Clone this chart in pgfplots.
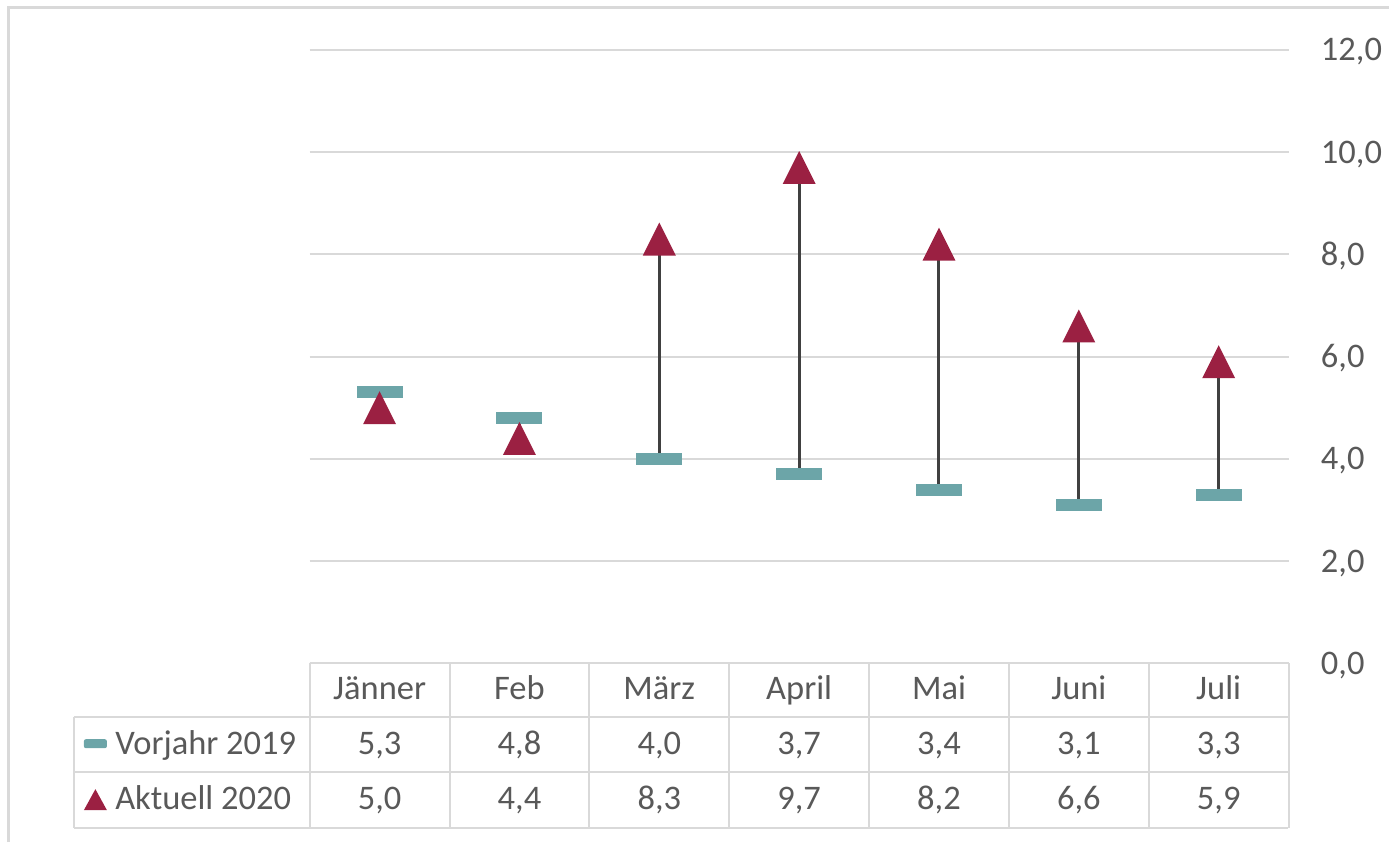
\documentclass[border=0pt]{standalone}
\usepackage{fontspec}
\setmainfont{Carlito}
\usepackage{pgfplots}
\usepackage{pgfplotstable}
\pgfplotsset{compat=1.18}
\definecolor{teal19}{RGB}{108,165,168}
\definecolor{maroon20}{RGB}{155,32,66}
\definecolor{txt}{RGB}{89,89,89}
\definecolor{gridc}{RGB}{217,217,217}
\definecolor{hl}{RGB}{64,64,64}
\pgfkeys{/pgf/number format/.cd, fixed, fixed zerofill, precision=1, use comma, assume math mode=true}

\pgfdeclareplotmark{dashbar}{%
 \pgfsetcornersarced{\pgfpoint{1.5pt}{1.5pt}}%
 \pgfpathrectangle{\pgfpoint{-11.5pt}{-3pt}}{\pgfpoint{23pt}{6pt}}%
 \pgfusepathqfill}
\pgfdeclareplotmark{tri}{%
 \pgfpathmoveto{\pgfpoint{0pt}{8.25pt}}%
 \pgfpathlineto{\pgfpoint{-8.25pt}{-8.25pt}}%
 \pgfpathlineto{\pgfpoint{8.25pt}{-8.25pt}}%
 \pgfpathclose\pgfusepathqfill}

\pgfplotstableread{
x month v2019 v2020
0 Jänner 5.3 5.0
1 Feb 4.8 4.4
2 März 4.0 8.3
3 April 3.7 9.7
4 Mai 3.4 8.2
5 Juni 3.1 6.6
6 Juli 3.3 5.9
}\data

\begin{document}
\begin{tikzpicture}[font=\fontsize{17.25}{20}\selectfont, text=txt]
\begin{scope}[x=0.5pt,y=-0.5pt]
\path (0,0) rectangle (1390,843);
\draw[gridc, line width=1.5pt] (8.5,843) -- (8.5,7.5) -- (1390,7.5);
\end{scope}

\begin{axis}[at={(155pt,-332pt)}, anchor=south west, scale only axis,
  width=490pt, height=307pt,
  xmin=-0.5, xmax=6.5, ymin=0, ymax=12,
  axis line style={draw=none},
  xtick=\empty, ytick={0,2,...,12},
  yticklabel pos=right, major tick length=0pt,
  ymajorgrids, grid style={gridc, line width=1pt},
  yticklabel style={anchor=base west, inner sep=0pt, xshift=16pt, yshift=-5.5pt,
     font=\fontsize{17.25}{20}\selectfont, text=txt},
  clip=false]
\addplot[hl, line width=1.5pt, unbounded coords=jump, forget plot] coordinates {
 (0,5.3) (0,5.0) (0,nan)
 (1,4.8) (1,4.4) (1,nan)
 (2,4.0) (2,8.3) (2,nan)
 (3,3.7) (3,9.7) (3,nan)
 (4,3.4) (4,8.2) (4,nan)
 (5,3.1) (5,6.6) (5,nan)
 (6,3.3) (6,5.9)};
\addplot[only marks, mark=dashbar, teal19] table[x=x, y=v2019]{\data};
\addplot[only marks, mark=tri, maroon20] table[x=x, y=v2020]{\data};
\end{axis}

\begin{scope}[x=0.5pt,y=-0.5pt]
\draw[gridc, line width=1pt] (310,664) -- (1289,664);
\foreach \yy in {718,773,829} \draw[gridc, line width=1pt] (74,\yy) -- (1289,\yy);
\draw[gridc, line width=1pt] (74,718) -- (74,829);
\foreach \xx in {310,450,...,1290} \draw[gridc, line width=1pt] (\xx,664) -- (\xx,829);
\foreach \i in {0,...,6} {
  \pgfplotstablegetelem{\i}{month}\of\data \let\mo\pgfplotsretval
  \node[anchor=base, inner sep=0pt] at ({380+140*\i},700) {\mo};
  \pgfplotstablegetelem{\i}{v2019}\of\data \let\va\pgfplotsretval
  \node[anchor=base, inner sep=0pt] at ({380+140*\i},755) {\pgfmathprintnumber{\va}};
  \pgfplotstablegetelem{\i}{v2020}\of\data \let\vb\pgfplotsretval
  \node[anchor=base, inner sep=0pt] at ({380+140*\i},810) {\pgfmathprintnumber{\vb}};
}
\fill[teal19, rounded corners=1pt] (84,740) rectangle (107,749);
\fill[maroon20] (95.5,790) -- (84,811) -- (107,811) -- cycle;
\node[anchor=base west, inner sep=0pt] at (115,755) {Vorjahr 2019};
\node[anchor=base west, inner sep=0pt] at (115,810) {Aktuell 2020};
\end{scope}
\end{tikzpicture}
\end{document}
